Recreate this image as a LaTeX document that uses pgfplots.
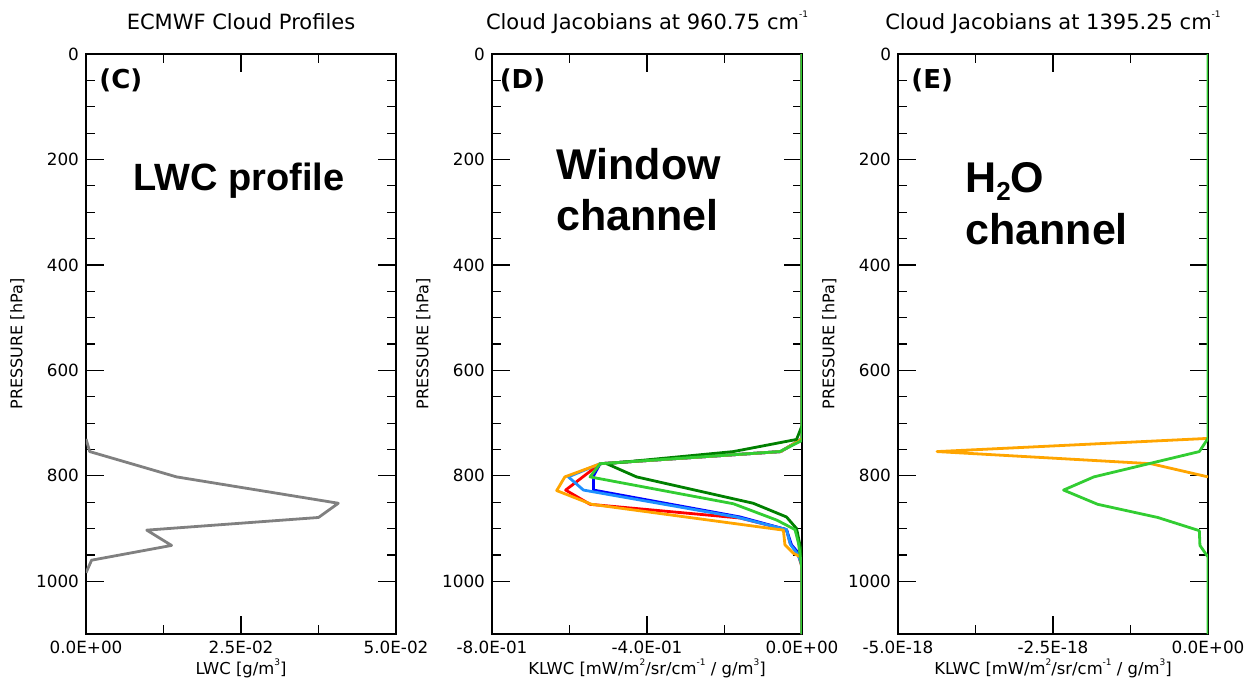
\documentclass[border=0pt]{standalone}
\usepackage{pgfplots}
\pgfplotsset{compat=1.18}
\usepackage{fontspec}
\setmainfont{DejaVu Sans}
\newfontfamily\arial{Liberation Sans}
\definecolor{cgray}{RGB}{128,128,128}
\definecolor{corange}{RGB}{255,165,0}
\definecolor{cred}{RGB}{255,0,0}
\definecolor{cblue}{RGB}{0,0,255}
\definecolor{csky}{RGB}{30,144,255}
\definecolor{cdgreen}{RGB}{0,128,0}
\definecolor{clgreen}{RGB}{50,205,50}
\newcommand\sups[1]{\raisebox{0.55em}{\fontsize{4.5}{5}\selectfont #1}}
\pgfplotsset{
  myax/.style={
    scale only axis, width=155pt, height=290pt,
    y dir=reverse, ymin=0, ymax=1100,
    ytick={0,200,400,600,800,1000}, yticklabels={0,200,400,600,800,1000},
    minor y tick num=3, minor x tick num=1,
    scaled x ticks=false, scaled y ticks=false,
    major tick length=9pt, minor tick length=4.5pt,
    tick style={line width=0.6pt, black},
    axis line style={line width=0.9pt},
    tick label style={font=\fontsize{8.4}{10}\selectfont},
    ylabel={PRESSURE [hPa]},
    ylabel style={at={(axis description cs:-0.205,0.5)}, anchor=base, font=\fontsize{8}{10}\selectfont},
    xlabel style={at={(axis description cs:0.5,-0.069)}, anchor=base, font=\fontsize{8.2}{10}\selectfont},
    title style={at={(axis description cs:0.5,1.022)}, anchor=base, yshift=0pt, font=\fontsize{10.5}{12}\selectfont},
    clip=true,
    every axis plot/.append style={line width=1.4pt, line join=round},
  },
}
\tikzset{
  lab/.style={anchor=base west, inner sep=0pt, font=\fontsize{13}{15}\selectfont\bfseries},
  big/.style={anchor=base west, inner sep=0pt, font=\arial\fontsize{#1}{25}\selectfont\bfseries},
}
\begin{document}
\begin{tikzpicture}
\useasboundingbox (0,0) rectangle (622pt,341pt);
% ---------------- Panel C
\begin{axis}[myax, at={(43pt,24pt)}, anchor=south west,
  xmin=0, xmax=0.05, xtick={0,0.025,0.05},
  xticklabels={0.0E+00,2.5E-02,5.0E-02},
  title={ECMWF Cloud Profiles},
  xlabel={LWC [g/m\sups{3}]}]
\addplot[cgray] coordinates {(0,730) (0.0006,754) (0.0146,802) (0.0407,852) (0.0375,879) (0.0098,903) (0.0138,932) (0.0009,960) (0,984)};
\node[lab] at (axis description cs:0.042,0.94) {(C)};
\node[big=19] at (axis description cs:0.152,0.764) {LWC profile};
\end{axis}
% ---------------- Panel D
\begin{axis}[myax, at={(246pt,24pt)}, anchor=south west,
  xmin=-0.8, xmax=0, xtick={-0.8,-0.4,0},
  xticklabels={-8.0E-01,-4.0E-01,0.0E+00},
  title={Cloud Jacobians at 960.75 cm\sups{-1}},
  xlabel={KLWC [mW/m\sups{2}/sr/cm\sups{-1} / g/m\sups{3}]}]
\addplot[cred] coordinates {(0,0) (0,730) (-0.055,754) (-0.521,777) (-0.61,827) (-0.547,854) (-0.16,880) (-0.04,902) (-0.031,927) (-0.0095,950) (0,973) (0,1100)};
\addplot[cblue] coordinates {(0,0) (0,730) (-0.055,754) (-0.521,777) (-0.538,800) (-0.538,827) (-0.16,878) (-0.04,902) (-0.027,931) (-0.005,950) (0,965) (0,1100)};
\addplot[csky] coordinates {(0,0) (0,730) (-0.055,754) (-0.521,777) (-0.603,802) (-0.564,827) (-0.17,878) (-0.04,902) (-0.03,930) (-0.01,950) (0,970) (0,1100)};
\addplot[corange] coordinates {(0,0) (0,730) (-0.055,754) (-0.52,777) (-0.612,802) (-0.633,828) (-0.543,854) (-0.048,903) (-0.044,931) (-0.022,947) (0,955) (0,1100)};
\addplot[cdgreen] coordinates {(0,0) (0,705) (-0.014,731) (-0.177,754) (-0.504,777) (-0.427,802) (-0.126,852) (-0.04,878) (-0.014,900) (0,950) (0,1100)};
\addplot[clgreen] coordinates {(0,0) (0,733) (-0.057,754) (-0.521,777) (-0.547,802) (-0.177,853) (-0.065,884) (-0.018,902) (-0.009,928) (0,978) (0,1100)};
\node[lab] at (axis description cs:0.024,0.94) {(D)};
\node[big=21.5] at (axis description cs:0.206,0.783) {Window};
\node[big=21.5] at (axis description cs:0.206,0.695) {channel};
\end{axis}
% ---------------- Panel E
\begin{axis}[myax, at={(449pt,24pt)}, anchor=south west,
  xmin=-5, xmax=0, xtick={-5,-2.5,0},
  xticklabels={-5.0E-18,-2.5E-18,0.0E+00},
  title={Cloud Jacobians at 1395.25 cm\sups{-1}},
  xlabel={KLWC [mW/m\sups{2}/sr/cm\sups{-1} / g/m\sups{3}]}]
\addplot[corange] coordinates {(0,729) (-4.37,754) (-0.92,777) (0,802)};
\addplot[clgreen] coordinates {(0,0) (0,729) (-0.14,754) (-1.84,802) (-2.33,827) (-1.78,854) (-0.81,879) (-0.14,904) (-0.13,932) (0,954) (0,979) (0,1100)};
\node[lab] at (axis description cs:0.042,0.94) {(E)};
\node[big=21.5] at (axis description cs:0.216,0.762) {H\raisebox{-0.2em}{\fontsize{13}{15}\selectfont 2}O};
\node[big=21.5] at (axis description cs:0.216,0.671) {channel};
\end{axis}
\end{tikzpicture}
\end{document}
